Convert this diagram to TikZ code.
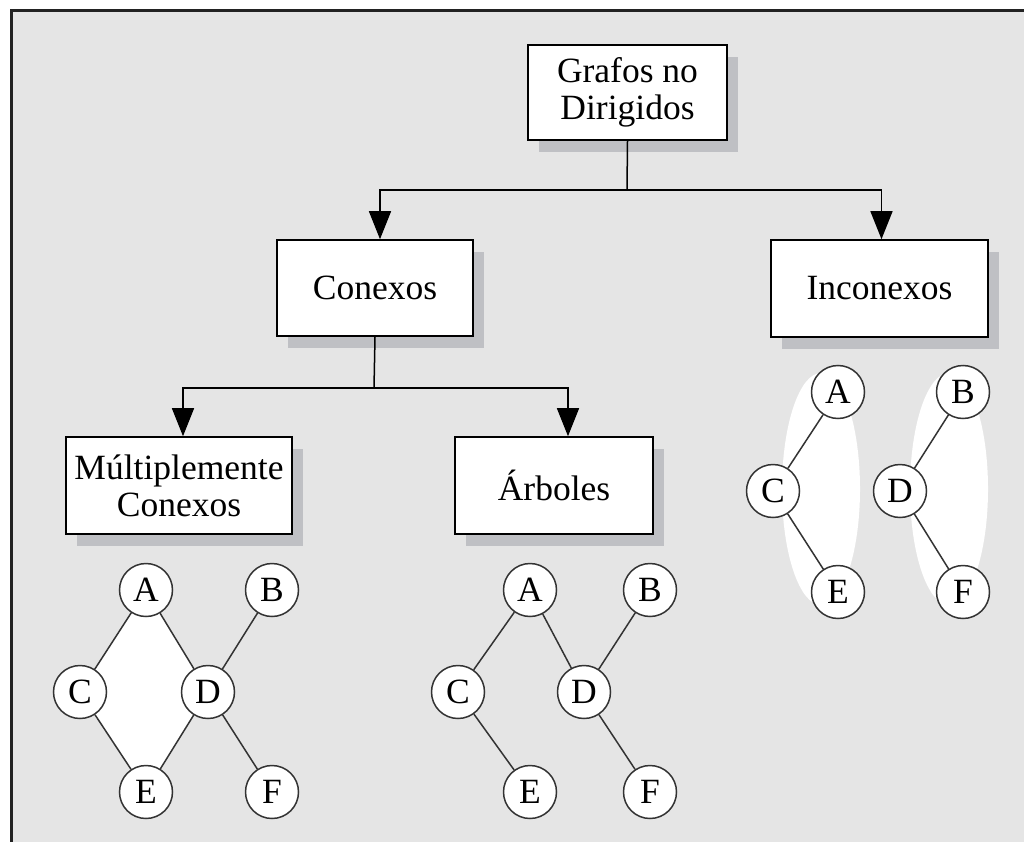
\documentclass[tikz,border=0pt]{standalone}
\usepackage{fontspec}
\setmainfont{Liberation Serif}
\usetikzlibrary{arrows.meta,shadows}
\definecolor{panel}{HTML}{E5E5E5}
\definecolor{shade}{HTML}{BFC0C4}
\definecolor{ink}{HTML}{333333}
\definecolor{rim}{HTML}{222222}
\pgfdeclarelayer{bg}
\pgfdeclarelayer{mid}
\pgfsetlayers{bg,mid,main}
\tikzset{
  box/.style={draw=black, line width=1.6pt, fill=white, rectangle, inner sep=0pt,
    align=center, font=\fontsize{35.5}{37}\selectfont,
    general shadow={shadow xshift=11pt, shadow yshift=-12pt, fill=shade}},
  vert/.style={circle, draw=ink, line width=1.5pt, fill=white, minimum size=53pt,
    inner sep=0pt, font=\fontsize{35.5}{37}\selectfont},
  link/.style={draw=black, line width=1.5pt},
  arr/.style={link, -{Triangle[length=28pt, width=22pt]}},
  edge/.style={draw=ink, line width=1.5pt}
}
\begin{document}
\begin{tikzpicture}[x=1pt, y=-1pt]
\useasboundingbox (0,0) rectangle (1024,842);
\begin{pgfonlayer}{bg}
  \fill[white] (0,0) rectangle (1024,842);
  \fill[panel] (12,11) rectangle (1024,842);
  \draw[rim, line width=3pt] (11.5,842) -- (11.5,10.5) -- (1024,10.5);
\end{pgfonlayer}

% hierarchy boxes
\node[box, minimum width=199pt, minimum height=95pt] (root) at (627.5,92.5) {Grafos no\\Dirigidos};
\node[box, minimum width=196pt, minimum height=96pt] (con) at (375,288) {Conexos};
\node[box, minimum width=217pt, minimum height=97pt] (incon) at (879.5,288.5) {Inconexos};
\node[box, minimum width=226pt, minimum height=97pt] (mult) at (179,485.5) {Múltiplemente\\Conexos};
\node[box, minimum width=198pt, minimum height=97pt] (arb) at (554,485.5) {Árboles};

% branching connectors
\coordinate (j1) at (627,190);
\draw[link] (root.south) -- (j1);
\draw[arr] (j1) -| ([xshift=5pt]con.north);
\draw[arr] (j1) -| ([xshift=2pt]incon.north);
\coordinate (j2) at (374,388);
\draw[link] (con.south) -- (j2);
\draw[arr] (j2) -| ([xshift=4pt]mult.north);
\draw[arr] (j2) -| ([xshift=14pt]arb.north);

% multiply connected graph
\node[vert] (mA) at (146,590) {A};
\node[vert] (mB) at (272,590) {B};
\node[vert] (mC) at (80,692) {C};
\node[vert] (mD) at (208,692) {D};
\node[vert] (mE) at (146,792) {E};
\node[vert] (mF) at (272,792) {F};
\begin{pgfonlayer}{mid}
  \fill[white] (mA.center) -- (mC.center) -- (mE.center) -- (mD.center) -- cycle;
\end{pgfonlayer}
\draw[edge] (mA) -- (mC);
\draw[edge] (mA) -- (mD);
\draw[edge] (mB) -- (mD);
\draw[edge] (mC) -- (mE);
\draw[edge] (mD) -- (mE);
\draw[edge] (mD) -- (mF);

% tree
\node[vert] (tA) at (530,590) {A};
\node[vert] (tB) at (650,590) {B};
\node[vert] (tC) at (458,692) {C};
\node[vert] (tD) at (584,692) {D};
\node[vert] (tE) at (530,792) {E};
\node[vert] (tF) at (650,792) {F};
\draw[edge] (tA) -- (tC);
\draw[edge] (tA) -- (tD);
\draw[edge] (tB) -- (tD);
\draw[edge] (tC) -- (tE);
\draw[edge] (tD) -- (tF);

% disconnected graph: two components
\node[vert] (iA) at (838,392) {A};
\node[vert] (iC) at (773,491) {C};
\node[vert] (iE) at (838,592) {E};
\node[vert] (iB) at (963,392) {B};
\node[vert] (iD) at (900,491) {D};
\node[vert] (iF) at (963,592) {F};
\begin{pgfonlayer}{mid}
  \fill[white] (821,489) ellipse [x radius=39, y radius=116];
  \fill[white] (949,489) ellipse [x radius=39, y radius=116];
\end{pgfonlayer}
\draw[edge] (iA) -- (iC);
\draw[edge] (iC) -- (iE);
\draw[edge] (iB) -- (iD);
\draw[edge] (iD) -- (iF);
\end{tikzpicture}
\end{document}
